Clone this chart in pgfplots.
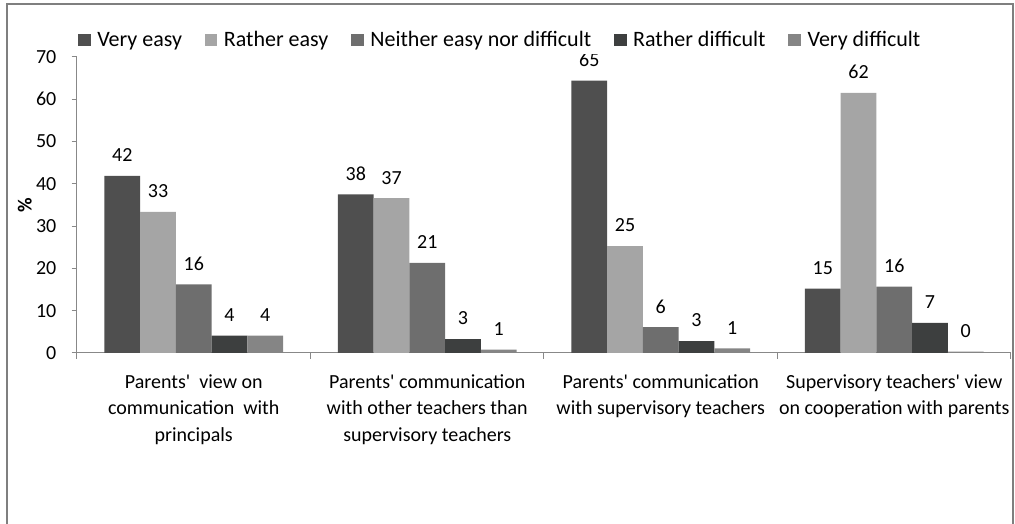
\documentclass[border=0pt]{standalone}
\usepackage{fontspec}
\setmainfont{Carlito}
\usepackage{pgfplots}
\pgfplotsset{compat=1.18}

\definecolor{veryeasy}{HTML}{4F4F4F}
\definecolor{rathereasy}{HTML}{A5A5A5}
\definecolor{neither}{HTML}{6E6E6E}
\definecolor{ratherdiff}{HTML}{3D3F3F}
\definecolor{verydiff}{HTML}{858585}
\definecolor{axisgray}{HTML}{888888}
\definecolor{framegray}{HTML}{7F7F7F}

\newcommand{\chartfont}{\fontsize{15}{20}\selectfont}
\newcommand{\legendfont}{\fontsize{16.5}{20}\selectfont}
\newcommand{\q}{\textquotesingle}

\begin{document}
\begin{tikzpicture}[x=0.75pt,y=0.75pt]
\useasboundingbox (0,0) rectangle (1015,524);
\draw[framegray, line width=1.5pt] (6.5,-30) rectangle (1012.5,520);
\begin{axis}[
    at={(57.75pt,128.25pt)}, anchor=south west,
    scale only axis,
    width=700.5pt, height=222pt,
    ybar=0pt,
    bar width=0.153,
    xmin=-0.5, xmax=3.5,
    ymin=0, ymax=70,
    ytick={0,10,...,70},
    xtick={0,1,2,3},
    xticklabels={
      {Parents\q\ \ view on\\communication\ \ with\\principals},
      {Parents\q\ communication\\with other teachers than\\supervisory teachers},
      {Parents\q\ communication\\with supervisory teachers},
      {Supervisory teachers\q\ view\\on cooperation with parents}},
    minor xtick={-0.5,0.5,1.5,2.5,3.5},
    major x tick style={draw=none},
    tick align=outside,
    major tick length=4pt,
    minor tick length=4.5pt,
    axis lines*=left,
    axis line style={axisgray, line width=0.75pt},
    every tick/.style={axisgray, line width=0.75pt},
    /pgf/number format/assume math mode=true,
    xticklabel style={align=center, font=\chartfont, yshift=-8.5pt},
    yticklabel style={font=\chartfont, xshift=-8pt},
    ylabel={\textbf{\%}},
    every axis y label/.style={at={(axis description cs:-0.056,0.5)}, rotate=90, anchor=center, font=\chartfont},
    point meta=explicit symbolic,
    nodes near coords,
    nodes near coords style={font=\chartfont, yshift=7pt},
    legend columns=5,
    legend style={at={(0.4534,1.057)}, anchor=center, draw=none, font=\legendfont,
      /tikz/every even column/.append style={column sep=15pt}},
    legend image code/.code={\fill[#1] (0pt,-4.6pt) rectangle (9.5pt,4.6pt); \path (12.5pt,0pt);},
]
\addplot[fill=veryeasy, draw=none] coordinates {(0,41.9)[42] (1,37.5)[38] (2,64.4)[65] (3,15.2)[15]};
\addplot[fill=rathereasy, draw=none] coordinates {(0,33.4)[33] (1,36.6)[37] (2,25.3)[25] (3,61.5)[62]};
\addplot[fill=neither, draw=none] coordinates {(0,16.2)[16] (1,21.3)[21] (2,6.1)[6] (3,15.7)[16]};
\addplot[fill=ratherdiff, draw=none] coordinates {(0,4.1)[4] (1,3.3)[3] (2,2.8)[3] (3,7.1)[7]};
\addplot[fill=verydiff, draw=none] coordinates {(0,4.1)[4] (1,0.8)[1] (2,1.1)[1] (3,0.3)[0]};
\legend{Very easy, Rather easy, Neither easy nor difficult, Rather difficult, Very difficult}
\end{axis}
\end{tikzpicture}
\end{document}
